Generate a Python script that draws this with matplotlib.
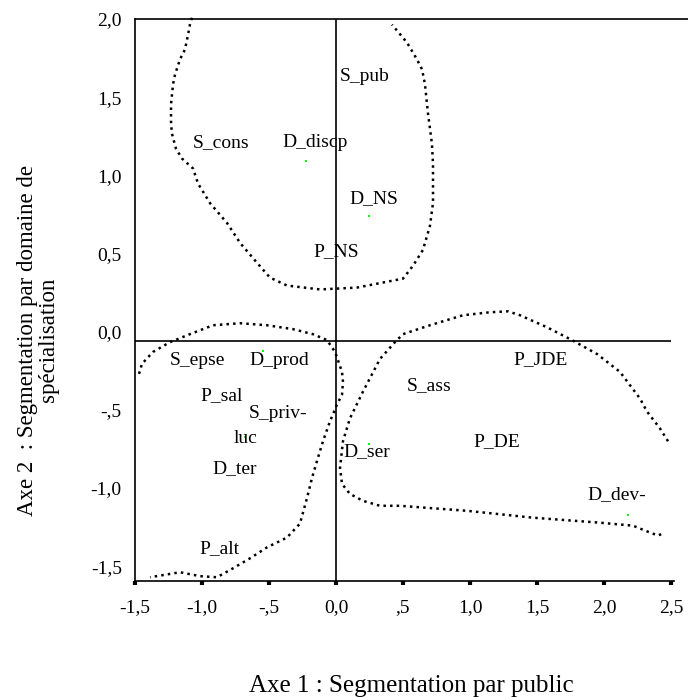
import matplotlib
matplotlib.use("Agg")
import matplotlib.pyplot as plt
from matplotlib.transforms import Bbox

plt.rcParams["font.family"] = ["Liberation Serif", "DejaVu Serif"]

# -------------------------------
# Data
# -------------------------------

# category labels and their positions (axe 1, axe 2)
labels = ["S_pub", "S_cons", "D_discp", "D_NS", "P_NS", "S_epse", "D_prod",
          "P_sal", "S_priv-", "luc", "D_ter", "P_alt", "D_ser", "P_DE",
          "D_dev-", "S_ass", "P_JDE"]
label_x = [0.03, -1.067, -0.403, 0.097, -0.172, -1.239, -0.649,
           -1.015, -0.649, -0.761, -0.925, -1.022, 0.052, 1.022,
           1.873, 0.53, 1.321]
label_y = [1.602, 1.183, 1.183, 0.822, 0.485, -0.213, -0.213,
           -0.441, -0.555, -0.714, -0.904, -1.418, -0.797, -0.733,
           -1.069, -0.371, -0.206]

# small green points that remain visible
point_x = [-0.224, 0.246, 0.246, 2.179, -0.679, -0.545]
point_y = [1.094, 0.739, -0.72, -1.171, -0.676, -0.124]

# hand drawn groups (dotted)
group1_x = [-1.075, -1.09, -1.104, -1.127, -1.164, -1.201, -1.216, -1.231,
            -1.231, -1.224, -1.194, -1.149, -1.067, -1.03, -0.94, -0.813,
            -0.716, -0.59, -0.493, -0.366, -0.119, 0.157, 0.5, 0.575,
            0.649, 0.701, 0.724, 0.724, 0.716, 0.687, 0.664, 0.642, 0.604,
            0.53, 0.418]
group1_y = [2.008, 1.964, 1.9, 1.805, 1.742, 1.646, 1.583, 1.456,
            1.329, 1.266, 1.17, 1.107, 1.044, 0.948, 0.822, 0.695,
            0.568, 0.441, 0.346, 0.295, 0.27, 0.282, 0.339, 0.422,
            0.523, 0.676, 0.822, 1.075, 1.202, 1.393, 1.583, 1.678, 1.742,
            1.849, 1.964]

group2_x = [-1.47, -1.448, -1.366, -1.239, -1.09, -0.918, -0.716, -0.515,
            -0.321, -0.172, -0.067, -0.007, 0.045, 0.052, 0.045, 0.007,
            -0.045, -0.097, -0.142, -0.179, -0.216, -0.269, -0.366, -0.515,
            -0.642, -0.769, -0.888, -1.015, -1.164, -1.388]
group2_y = [-0.27, -0.206, -0.13, -0.067, -0.016, 0.041, 0.054, 0.041,
            0.016, -0.016, -0.054, -0.13, -0.257, -0.321, -0.403, -0.467,
            -0.574, -0.701, -0.828, -0.936, -1.063, -1.228, -1.317, -1.38,
            -1.45, -1.514, -1.571, -1.564, -1.539, -1.571]

group3_x = [2.478, 2.418, 2.321, 2.269, 2.119, 1.948, 1.761, 1.575,
            1.373, 1.284, 1.149, 0.948, 0.701, 0.5, 0.44, 0.328,
            0.201, 0.104, 0.052, 0.03, 0.045, 0.104, 0.201, 0.328,
            0.478, 0.978, 1.47, 1.97, 2.216, 2.343, 2.403, 2.44]
group3_y = [-0.701, -0.619, -0.511, -0.428, -0.257, -0.143, -0.054, 0.028,
            0.105, 0.13, 0.124, 0.105, 0.041, -0.016, -0.067, -0.175,
            -0.384, -0.555, -0.701, -0.873, -0.974, -1.038, -1.082, -1.114,
            -1.114, -1.146, -1.19, -1.222, -1.241, -1.285, -1.304, -1.291]

x_ticks = [-1.5, -1.0, -0.5, 0.0, 0.5, 1.0, 1.5, 2.0, 2.5]
x_tick_labels = ["-1,5", "-1,0", "-,5", "0,0", ",5", "1,0", "1,5", "2,0", "2,5"]
y_ticks = [2.0, 1.5, 1.0, 0.5, 0.0, -0.5, -1.0, -1.5]
y_tick_labels = ["2,0", "1,5", "1,0", "0,5", "0,0", "-,5", "-1,0", "-1,5"]

# -------------------------------
# Figure
# -------------------------------

fig = plt.figure(figsize=(6.88, 6.97), dpi=100)
ax = fig.add_axes([135 / 688, 1 - 581 / 697, 553 / 688, 562 / 697])
ax.set_xlim(-1.5, 2.627)
ax.set_ylim(-1.595, 1.97)

for side in ["left", "bottom", "top"]:
    ax.spines[side].set_linewidth(1.2)
ax.spines["right"].set_visible(False)
ax.spines["bottom"].set_bounds(-1.5, 2.52)

# reference lines
ax.axvline(0, color="black", linewidth=1.2)
ax.hlines(-0.06, -1.5, 2.5, color="black", linewidth=1.2)

dotted = dict(color="black", linestyle=":", linewidth=1.8, clip_on=False)
ax.plot(group1_x, group1_y, **dotted)
ax.plot(group2_x, group2_y, **dotted)
ax.plot(group3_x, group3_y, **dotted)

ax.plot(point_x, point_y, "s", color="#00ff00", markersize=1.6,
        markeredgewidth=0)

for name, lx, ly in zip(labels, label_x, label_y):
    ax.text(lx, ly, name, fontsize=14, ha="left", va="baseline")

ax.set_xticks(x_ticks)
ax.set_xticklabels(x_tick_labels, fontsize=14)
ax.set_yticks(y_ticks)
ax.set_yticklabels(y_tick_labels, fontsize=14)
ax.tick_params(axis="x", direction="out", length=3, width=3, pad=10)
ax.tick_params(axis="y", length=0, pad=9.5)

# the y labels are slightly cut on their right side in the original
clip = Bbox.from_extents(0, 0, 122, 697)
for t in ax.get_yticklabels():
    t.set_clip_box(clip)
    t.set_clip_on(True)

fig.text(411 / 688, 1 - 692 / 697, "Axe 1 : Segmentation par public",
         fontsize=18, ha="center", va="baseline")
fig.text(38 / 688, 1 - 340 / 697,
         "Axe 2  : Segmentation par domaine de\nspécialisation",
         fontsize=16.5, rotation=90, ha="center", va="center",
         multialignment="center", linespacing=1.0)

fig.savefig("out.png", dpi=100)
